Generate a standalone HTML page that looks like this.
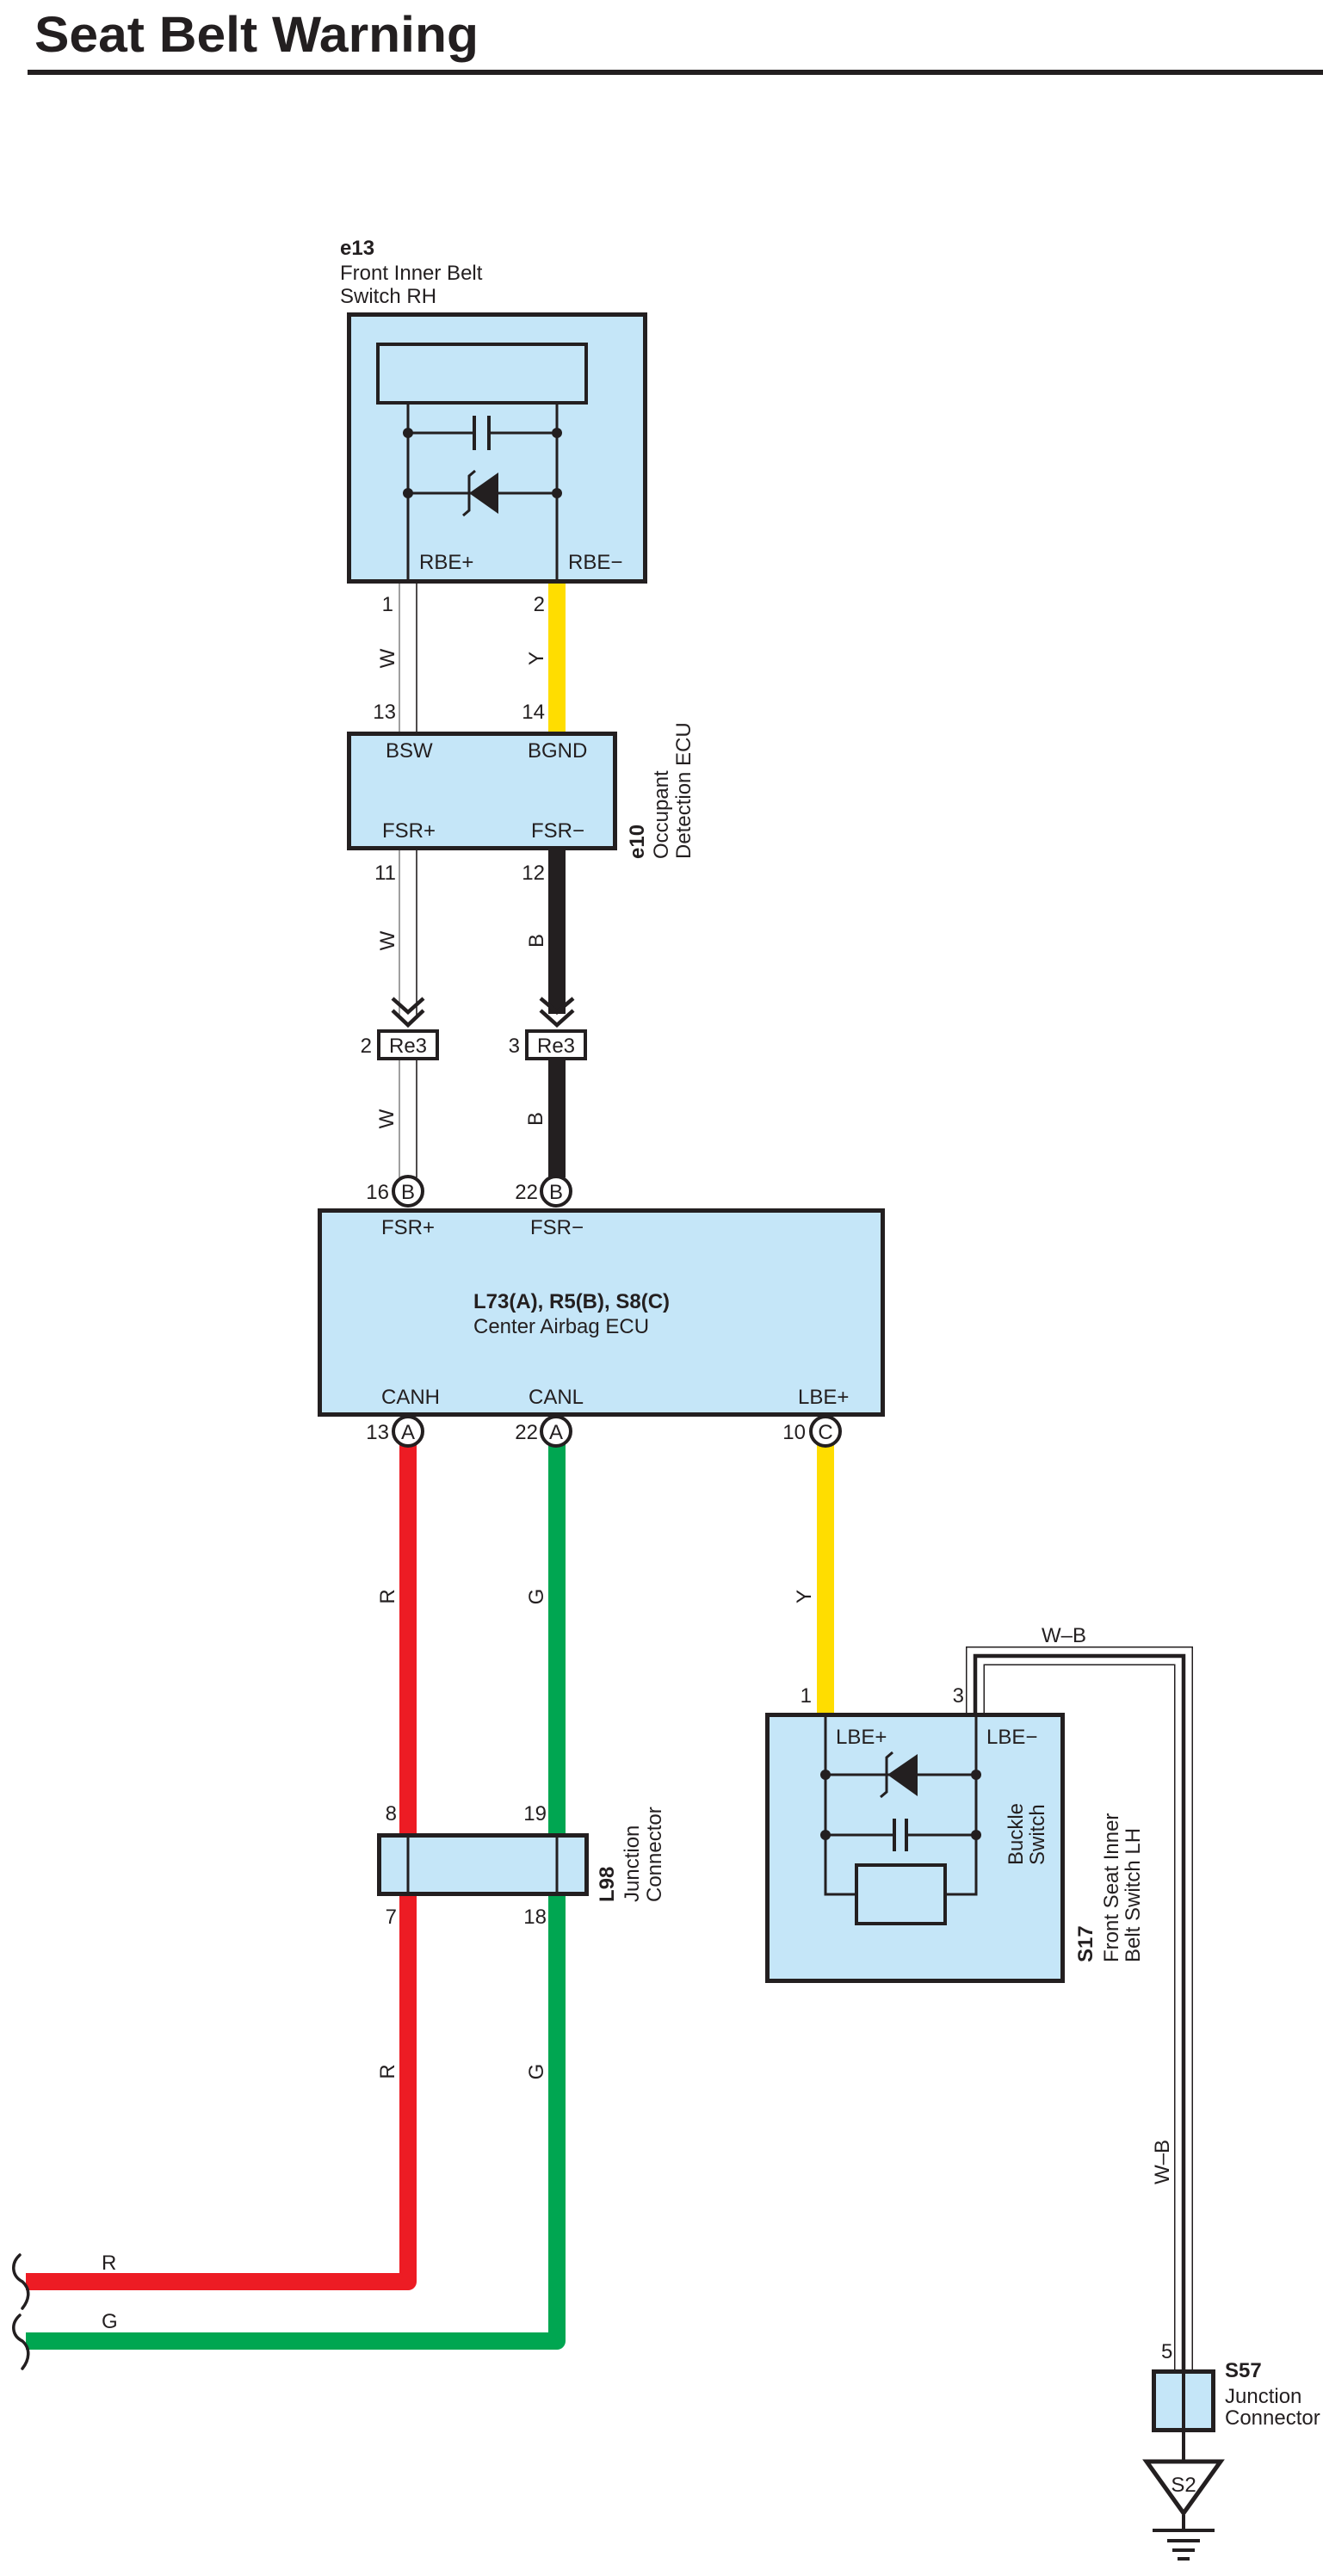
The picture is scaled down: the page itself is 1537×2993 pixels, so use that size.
<!DOCTYPE html>
<html><head><meta charset="utf-8"><style>
html,body{margin:0;padding:0;background:#fff;}
svg{display:block;}
text{font-family:"Liberation Sans",Arial,sans-serif;fill:#231f20;}
</style></head><body>
<svg width="1537" height="2993" viewBox="0 0 1537 2993" xmlns="http://www.w3.org/2000/svg">
<rect width="1537" height="2993" fill="#fff"/>
<!-- Title -->
<text x="40" y="60" font-size="58" font-weight="bold" textLength="516" lengthAdjust="spacingAndGlyphs">Seat Belt Warning</text>
<rect x="32" y="81" width="1505" height="6" fill="#231f20"/>

<g font-size="24">
<!-- e13 -->
<text x="395" y="296" font-weight="bold">e13</text>
<text x="395" y="325">Front Inner Belt</text>
<text x="395" y="352">Switch RH</text>
<rect x="405.5" y="365.5" width="344" height="310" fill="#c5e6f8" stroke="#231f20" stroke-width="5"/>
<rect x="439" y="400" width="242" height="68" fill="#c5e6f8" stroke="#231f20" stroke-width="4"/>
<g stroke="#231f20" stroke-width="3" fill="none">
<line x1="474" y1="468" x2="474" y2="676"/>
<line x1="647" y1="468" x2="647" y2="676"/>
<line x1="474" y1="503" x2="551" y2="503"/>
<line x1="568" y1="503" x2="647" y2="503"/>
<line x1="474" y1="573" x2="647" y2="573"/>
<polyline points="552,547 545,553 545,593 538,599"/>
</g>
<g stroke="#231f20" stroke-width="4"><line x1="551" y1="483" x2="551" y2="523"/><line x1="568" y1="483" x2="568" y2="523"/></g>
<polygon points="545,573 579,549 579,597" fill="#231f20"/>
<g fill="#231f20"><circle cx="474" cy="503" r="6"/><circle cx="647" cy="503" r="6"/><circle cx="474" cy="573" r="6"/><circle cx="647" cy="573" r="6"/></g>
<text x="487" y="661">RBE+</text>
<text x="660" y="661">RBE−</text>

<!-- W wires (two thin lines) -->
<g stroke-width="1.6">
<line x1="464" y1="678" x2="464" y2="851" stroke="#888"/><line x1="484" y1="678" x2="484" y2="851" stroke="#231f20"/>
<line x1="464" y1="988" x2="464" y2="1180" stroke="#888"/><line x1="484" y1="988" x2="484" y2="1180" stroke="#231f20"/>
<line x1="464" y1="1232" x2="464" y2="1368" stroke="#888"/><line x1="484" y1="1232" x2="484" y2="1368" stroke="#231f20"/>
</g>
<rect x="637" y="678" width="20" height="173" fill="#ffdd00"/>
<rect x="637" y="988" width="20" height="190" fill="#231f20"/>
<rect x="637" y="1232" width="20" height="136" fill="#231f20"/>

<g text-anchor="end">
<text x="457" y="710">1</text><text x="633" y="710">2</text>
<text x="460" y="835">13</text><text x="633" y="835">14</text>
<text x="460" y="1022">11</text><text x="633" y="1022">12</text>
</g>
<g text-anchor="middle">
<text transform="translate(458,765) rotate(-90)">W</text>
<text transform="translate(631,765) rotate(-90)">Y</text>
<text transform="translate(458,1093) rotate(-90)">W</text>
<text transform="translate(631,1093) rotate(-90)">B</text>
<text transform="translate(457,1300) rotate(-90)">W</text>
<text transform="translate(630,1300) rotate(-90)">B</text>
</g>

<!-- e10 -->
<rect x="405.5" y="852.5" width="309" height="133" fill="#c5e6f8" stroke="#231f20" stroke-width="5"/>
<text x="448" y="880">BSW</text><text x="613" y="880">BGND</text>
<text x="444" y="973">FSR+</text><text x="617" y="973">FSR−</text>
<text transform="translate(748,998) rotate(-90)" font-weight="bold">e10</text>
<text transform="translate(776,998) rotate(-90)">Occupant</text>
<text transform="translate(802,998) rotate(-90)">Detection ECU</text>

<!-- chevrons -->
<g stroke="#231f20" stroke-width="4.5" fill="none">
<polyline points="456,1160 474,1176 492,1160"/><polyline points="456,1174 474,1191 492,1174"/>
<polyline points="628,1160 647,1176 666,1160"/><polyline points="628,1174 647,1191 666,1174"/>
</g>
<!-- Re3 -->
<rect x="440" y="1198" width="68" height="32" fill="#fff" stroke="#231f20" stroke-width="4"/>
<rect x="612" y="1198" width="68" height="32" fill="#fff" stroke="#231f20" stroke-width="4"/>
<text x="474" y="1223" text-anchor="middle">Re3</text>
<text x="646" y="1223" text-anchor="middle">Re3</text>
<text x="432" y="1223" text-anchor="end">2</text>
<text x="604" y="1223" text-anchor="end">3</text>

<!-- Center Airbag ECU -->
<rect x="371.5" y="1406.5" width="654" height="237" fill="#c5e6f8" stroke="#231f20" stroke-width="5"/>
<text x="443" y="1434">FSR+</text><text x="616" y="1434">FSR−</text>
<text x="550" y="1520" font-weight="bold">L73(A), R5(B), S8(C)</text>
<text x="550" y="1549">Center Airbag ECU</text>
<text x="443" y="1631">CANH</text><text x="614" y="1631">CANL</text><text x="927" y="1631">LBE+</text>

<!-- lower wires -->
<path d="M474,1676 V2651 H30" stroke="#ed1c24" stroke-width="20" fill="none" stroke-linejoin="round"/>
<path d="M647,1676 V2720 H30" stroke="#00a651" stroke-width="20" fill="none" stroke-linejoin="round"/>
<rect x="949" y="1676" width="20" height="316" fill="#ffdd00"/>

<!-- circles -->
<g fill="#fff" stroke="#231f20" stroke-width="4">
<circle cx="474" cy="1384" r="17"/><circle cx="646" cy="1384" r="17"/>
<circle cx="474" cy="1663" r="17"/><circle cx="646" cy="1663" r="17"/><circle cx="959" cy="1663" r="17"/>
</g>
<g text-anchor="middle">
<text x="474" y="1393">B</text><text x="646" y="1393">B</text>
<text x="474" y="1672">A</text><text x="646" y="1672">A</text><text x="959" y="1672">C</text>
</g>
<g text-anchor="end">
<text x="452" y="1393">16</text><text x="625" y="1393">22</text>
<text x="452" y="1672">13</text><text x="625" y="1672">22</text><text x="936" y="1672">10</text>
</g>
<g text-anchor="middle">
<text transform="translate(458,1855) rotate(-90)">R</text>
<text transform="translate(631,1855) rotate(-90)">G</text>
<text transform="translate(942,1855) rotate(-90)">Y</text>
<text transform="translate(458,2407) rotate(-90)">R</text>
<text transform="translate(631,2407) rotate(-90)">G</text>
</g>

<!-- L98 -->
<rect x="440.5" y="2132.5" width="241" height="68" fill="#c5e6f8" stroke="#231f20" stroke-width="5"/>
<g stroke="#231f20" stroke-width="3"><line x1="474" y1="2132" x2="474" y2="2201"/><line x1="647" y1="2132" x2="647" y2="2201"/></g>
<g text-anchor="end">
<text x="461" y="2115">8</text><text x="635" y="2115">19</text>
<text x="461" y="2235">7</text><text x="635" y="2235">18</text>
</g>
<text transform="translate(713,2210) rotate(-90)" font-weight="bold">L98</text>
<text transform="translate(742,2210) rotate(-90)">Junction</text>
<text transform="translate(768,2210) rotate(-90)">Connector</text>

<!-- W-B wire -->
<path d="M1133,1990 V1924 H1375 V2753" fill="none" stroke="#231f20" stroke-width="22"/>
<path d="M1133,1992 V1924 H1375 V2753" fill="none" stroke="#fff" stroke-width="19"/>
<path d="M1133,1992 V1924 H1375 V2753" fill="none" stroke="#231f20" stroke-width="4.5"/>
<text x="1236" y="1908" text-anchor="middle">W–B</text>
<text transform="translate(1358,2512) rotate(-90)" text-anchor="middle">W–B</text>

<!-- S17 -->
<rect x="891.5" y="1992.5" width="343" height="309" fill="#c5e6f8" stroke="#231f20" stroke-width="5"/>
<g stroke="#231f20" stroke-width="3" fill="none">
<polyline points="959,1992 959,2201 993,2201"/>
<polyline points="1134,1992 1134,2201 1100,2201"/>
<line x1="959" y1="2062" x2="1134" y2="2062"/>
<line x1="959" y1="2132" x2="1039" y2="2132"/>
<line x1="1053" y1="2132" x2="1134" y2="2132"/>
<polyline points="1037,2036 1030,2042 1030,2082 1023,2088"/>
</g>
<rect x="995" y="2167" width="103" height="68" fill="#c5e6f8" stroke="#231f20" stroke-width="4"/>
<g stroke="#231f20" stroke-width="4"><line x1="1039" y1="2113" x2="1039" y2="2151"/><line x1="1053" y1="2113" x2="1053" y2="2151"/></g>
<polygon points="1031,2062 1066,2038 1066,2087" fill="#231f20"/>
<g fill="#231f20"><circle cx="959" cy="2062" r="6"/><circle cx="1134" cy="2062" r="6"/><circle cx="959" cy="2132" r="6"/><circle cx="1134" cy="2132" r="6"/></g>
<text x="971" y="2026">LBE+</text>
<text x="1146" y="2026">LBE−</text>
<text x="943" y="1978" text-anchor="end">1</text>
<text x="1120" y="1978" text-anchor="end">3</text>
<text transform="translate(1188,2167) rotate(-90)">Buckle</text>
<text transform="translate(1213,2167) rotate(-90)">Switch</text>
<text transform="translate(1269,2280) rotate(-90)" font-weight="bold">S17</text>
<text transform="translate(1299,2280) rotate(-90)">Front Seat Inner</text>
<text transform="translate(1324,2280) rotate(-90)">Belt Switch LH</text>

<!-- S57 -->
<rect x="1340.5" y="2755.5" width="69" height="68" fill="#c5e6f8" stroke="#231f20" stroke-width="5"/>
<line x1="1375" y1="2753" x2="1375" y2="2860" stroke="#231f20" stroke-width="4"/>
<text x="1349" y="2740">5</text>
<text x="1423" y="2762" font-weight="bold">S57</text>
<text x="1423" y="2792">Junction</text>
<text x="1423" y="2817">Connector</text>
<polygon points="1332,2860 1418,2860 1375,2920" fill="#fff" stroke="#231f20" stroke-width="5" stroke-linejoin="miter"/>
<text x="1375" y="2895" text-anchor="middle">S2</text>
<g stroke="#231f20" stroke-width="4">
<line x1="1375" y1="2922" x2="1375" y2="2940"/>
<line x1="1339" y1="2940" x2="1411" y2="2940"/>
<line x1="1356" y1="2952" x2="1394" y2="2952"/>
<line x1="1362" y1="2963" x2="1388" y2="2963"/>
<line x1="1368" y1="2973" x2="1382" y2="2973"/>
</g>

<!-- breaks -->
<g stroke="#231f20" stroke-width="3.5" fill="none" stroke-linecap="round">
<path d="M23,2620 C12,2630 14,2645 26,2651 C36,2660 34,2672 26,2682"/>
<path d="M23,2690 C12,2700 14,2714 26,2720 C36,2729 34,2742 26,2752"/>
</g>
<text x="118" y="2637">R</text>
<text x="118" y="2705">G</text>
</g>
</svg>
</body></html>
